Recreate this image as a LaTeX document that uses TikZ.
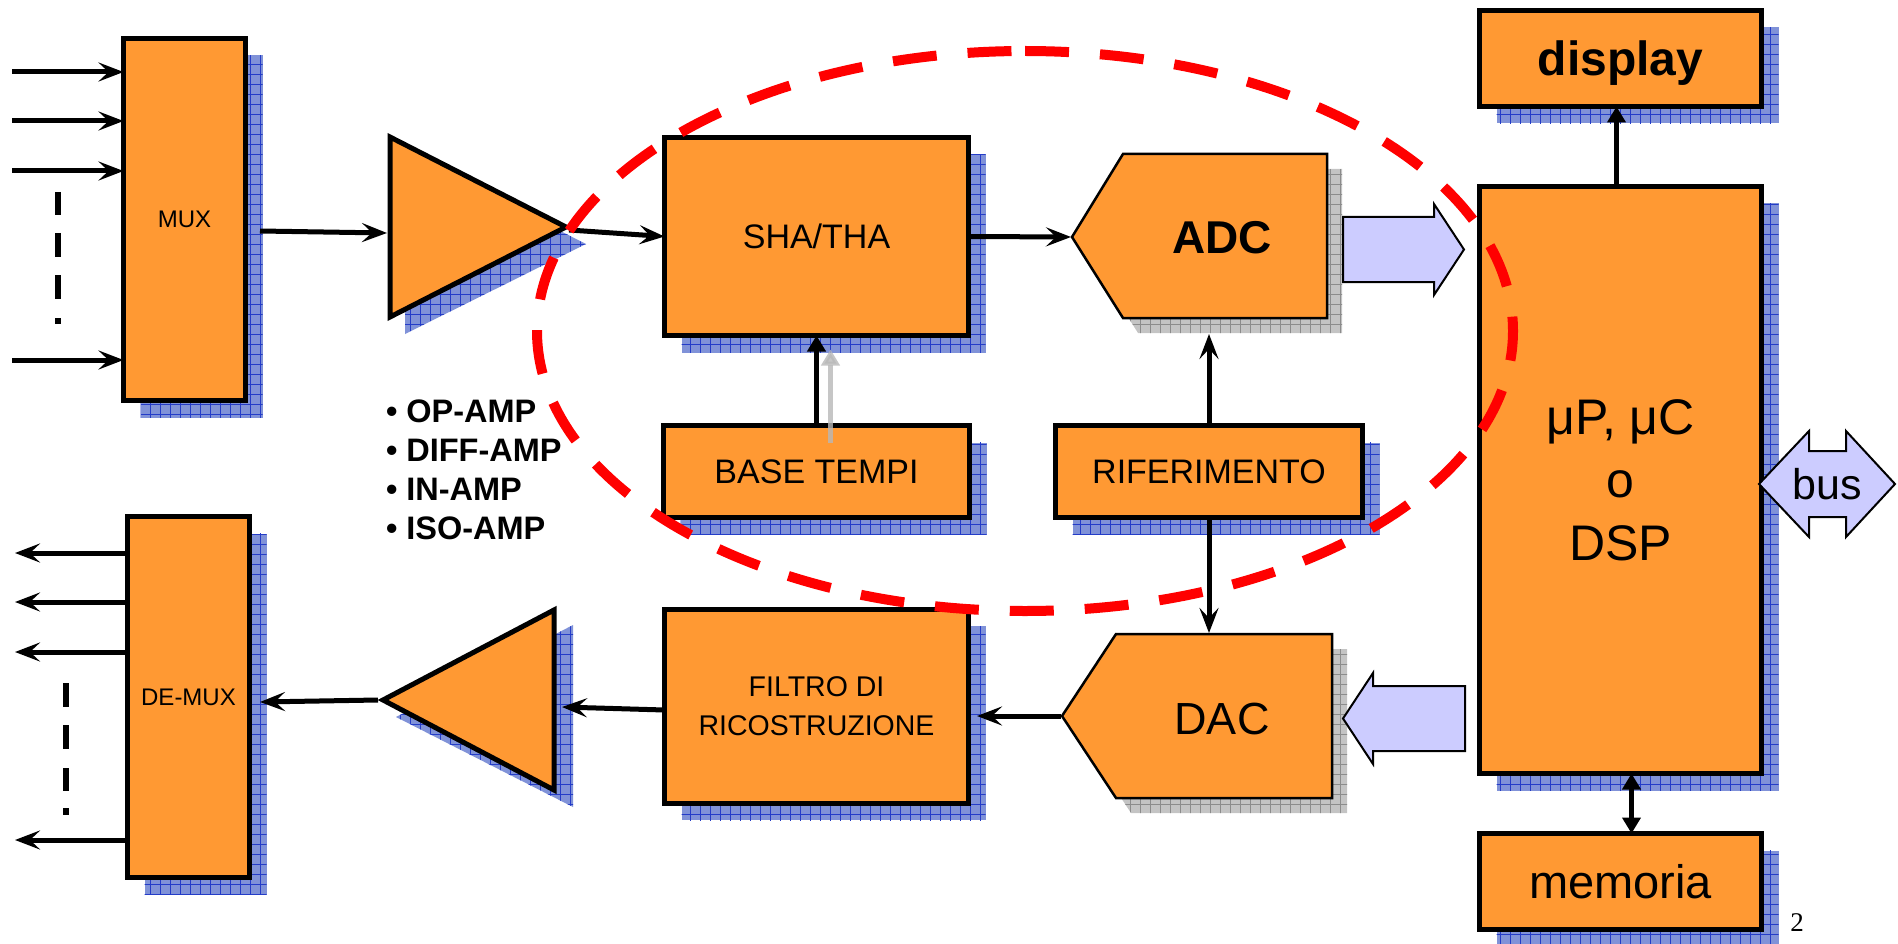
\documentclass[tikz,border=0pt]{standalone}
\usepackage{fontspec}
\setmainfont{Liberation Sans}
\newfontfamily\pagefont{Liberation Serif}
\usetikzlibrary{arrows.meta,calc,patterns.meta}
\pgfdeclarelayer{shade}
\pgfsetlayers{shade,main}

\definecolor{boxorange}{RGB}{255,153,51}
\definecolor{lav}{RGB}{204,204,255}
\definecolor{shblue}{RGB}{128,146,216}
\definecolor{shgrid}{RGB}{36,60,200}
\definecolor{shgray}{RGB}{196,196,196}
\definecolor{shgraygrid}{RGB}{140,140,140}
\definecolor{ringred}{RGB}{255,0,0}

\tikzset{
  block/.style={draw=black, line width=5pt, fill=boxorange, inner sep=0pt, outer sep=0pt, align=center},
  caption/.style={inner sep=0pt, outer sep=0pt, align=center},
  amp/.style={draw=black, line width=5pt, fill=boxorange, line join=miter},
  conv/.style={draw=black, line width=2.5pt, fill=boxorange, line join=miter},
  fat/.style={draw=black, line width=2pt, fill=lav, line join=miter},
  bshadow/.style={fill=shblue, postaction={pattern={Hatch[angle=0,distance=10pt,line width=0.9pt]}, pattern color=shgrid}},
  gshadow/.style={fill=shgray, postaction={pattern={Hatch[angle=0,distance=10pt,line width=0.9pt]}, pattern color=shgraygrid}},
  wire/.style={line width=5pt, -{Stealth[length=25pt,width=19pt,inset=10pt]}},
  feed/.style={line width=5pt, -{Triangle[length=16pt,width=18pt]}},
  feedboth/.style={line width=5pt, {Triangle[length=16pt,width=18pt]}-{Triangle[length=16pt,width=18pt]}},
  ghost/.style={line width=5pt, draw=black!28, opacity=0.8, -{Triangle[length=16pt,width=18pt]}},
  ellipsis/.style={line width=6pt},
  ring/.style={draw=ringred, line width=10pt, dash pattern=on 44pt off 31pt},
}

\begin{document}
\begin{tikzpicture}[x=1pt,y=-1pt]
\useasboundingbox (0,0) rectangle (1898,944);

% ---------- blocks ----------
\node[block, minimum width=122pt, minimum height=362pt, font=\fontsize{24}{28}\selectfont] (mux) at (184.5,219.5) {MUX};
\node[block, minimum width=122pt, minimum height=361pt, font=\fontsize{24}{28}\selectfont] (demux) at (188.5,697) {DE-MUX};
\node[block, minimum width=304pt, minimum height=198pt, font=\fontsize{34}{40}\selectfont] (sha) at (816.5,236.5) {SHA/THA};
\node[block, minimum width=306pt, minimum height=92pt, font=\fontsize{34}{40}\selectfont] (base) at (816.5,471.5) {BASE TEMPI};
\node[block, minimum width=307pt, minimum height=92pt, font=\fontsize{34}{40}\selectfont] (rif) at (1209,471.5) {RIFERIMENTO};
\node[block, minimum width=304pt, minimum height=194pt, font=\fontsize{28.5}{39}\selectfont] (filtro) at (816.5,706) {FILTRO DI\\RICOSTRUZIONE};
\node[block, minimum width=282pt, minimum height=587pt, font=\fontsize{50}{63}\selectfont] (up) at (1620.5,480) {μP, μC\\o\\DSP};
\node[block, minimum width=282pt, minimum height=96pt, text depth=0pt, font=\bfseries\fontsize{48}{54}\selectfont] (disp) at (1620.5,58.5) {display};
\node[block, minimum width=282pt, minimum height=96pt, font=\fontsize{47}{54}\selectfont] (mem) at (1620.5,881.5) {memoria};

% ---------- amplifiers ----------
\draw[amp] (390,137) -- (390,317) -- (566,227) -- cycle;
\draw[amp] (383,700) -- (554,610) -- (554,790) -- cycle;
\coordinate (amp1-in) at (387,233);
\coordinate (amp1-out) at (569,230);
\coordinate (amp2-in) at (562,707);
\coordinate (amp2-out) at (378,700);

% ---------- converters ----------
\draw[conv] (1072,237) -- (1123,154) -- (1327,154) -- (1327,318) -- (1123,318) -- cycle;
\node[caption, font=\bfseries\fontsize{46}{50}\selectfont] (adc) at (1222,238) {ADC};
\draw[conv] (1062,716) -- (1116,634) -- (1332,634) -- (1332,798) -- (1116,798) -- cycle;
\node[caption, font=\fontsize{45}{50}\selectfont] (dac) at (1222,719) {DAC};
\coordinate (adc-in) at (1071,237);
\coordinate (adc-base) at (1209,334);
\coordinate (dac-top) at (1209,633);
\coordinate (dac-out) at (1061,716);

% ---------- shadows ----------
\begin{pgfonlayer}{shade}
  \foreach \b in {mux,demux,sha,base,rif,filtro,up,disp,mem}{
    \fill[bshadow] ($(\b.south west)+(17,17)$) rectangle ($(\b.north east)+(17,17)$);
  }
  \fill[bshadow] (405,152) -- (405,334) -- (586,244) -- cycle;
  \fill[bshadow] (396,717) -- (573,625) -- (573,807) -- cycle;
  \fill[gshadow] (1087,252) -- (1138,169) -- (1342,169) -- (1342,333) -- (1138,333) -- cycle;
  \fill[gshadow] (1077,731) -- (1131,649) -- (1347,649) -- (1347,813) -- (1131,813) -- cycle;
\end{pgfonlayer}

% ---------- bus transfers ----------
\draw[fat] (1343,217) -- (1434,217) -- (1434,204) -- (1464,249.5) -- (1434,295) -- (1434,282) -- (1343,282) -- cycle;
\draw[fat] (1465,686) -- (1373,686) -- (1373,673) -- (1343,718.5) -- (1373,764) -- (1373,751) -- (1465,751) -- cycle;
\draw[fat] (1759,484) -- (1809,431) -- (1809,451) -- (1846,451) -- (1846,431) -- (1895,484) -- (1846,537) -- (1846,517) -- (1809,517) -- (1809,537) -- cycle;
\node[caption, font=\fontsize{43}{48}\selectfont] (bus) at (1827,484) {bus};

% ---------- multiplexer inputs ----------
\foreach \y [count=\i] in {72,121,171,360}{
  \coordinate (in\i) at (12,\y);
  \draw[wire] (in\i) -- (in\i -| mux.west);
}
\draw[ellipsis, dash pattern=on 23pt off 18pt on 24pt off 18pt on 24pt off 19pt on 6pt off 60pt] (58,192) -- (58,324);

% ---------- demultiplexer outputs ----------
\foreach \y [count=\i] in {553,602,652,840}{
  \coordinate (out\i) at (15,\y);
  \draw[wire] (out\i -| demux.west) -- (out\i);
}
\draw[ellipsis, dash pattern=on 24pt off 18pt on 24pt off 19pt on 23pt off 17pt on 7pt off 60pt] (66,683) -- (66,815);

% ---------- signal chain ----------
\coordinate (mux-out) at (260,231);
\coordinate (demux-in) at (260,702);
\coordinate (filtro-in) at (977,716);
\draw[wire] (mux-out) -- (amp1-in);
\draw[wire] (amp1-out) -- (sha.west);
\draw[wire] (sha.east) -- (adc-in);
\draw[feed] (base.north) -- (sha.south);
\draw[ghost] ($(base.north)+(14,17)$) -- ($(sha.south)+(14,14)$);
\draw[wire] (rif.north) -- (adc-base);
\draw[wire] (rif.south) -- (dac-top);
\draw[wire] (dac-out) -- (filtro-in);
\draw[wire] ($(filtro.west)+(0,4)$) -- (amp2-in);
\draw[wire] (amp2-out) -- (demux-in);
\draw[feed] ($(up.north)+(-4,0)$) -- ($(disp.south)+(-4,0)$);
\draw[feedboth] ($(up.south)+(11,0)$) -- ($(mem.north)+(11,0)$);

% ---------- amplifier types ----------
\node[caption, anchor=west, align=left, font=\bfseries\fontsize{32.5}{39}\selectfont] (amps) at (386,470) {• OP-AMP\\• DIFF-AMP\\• IN-AMP\\• ISO-AMP};

% ---------- acquisition section ----------
\draw[ring] (1025,51) arc[start angle=270, end angle=630, x radius=488, y radius=280];

\node[caption, font=\pagefont\fontsize{27}{30}\selectfont] (page) at (1797,923) {2};
\end{tikzpicture}
\end{document}
